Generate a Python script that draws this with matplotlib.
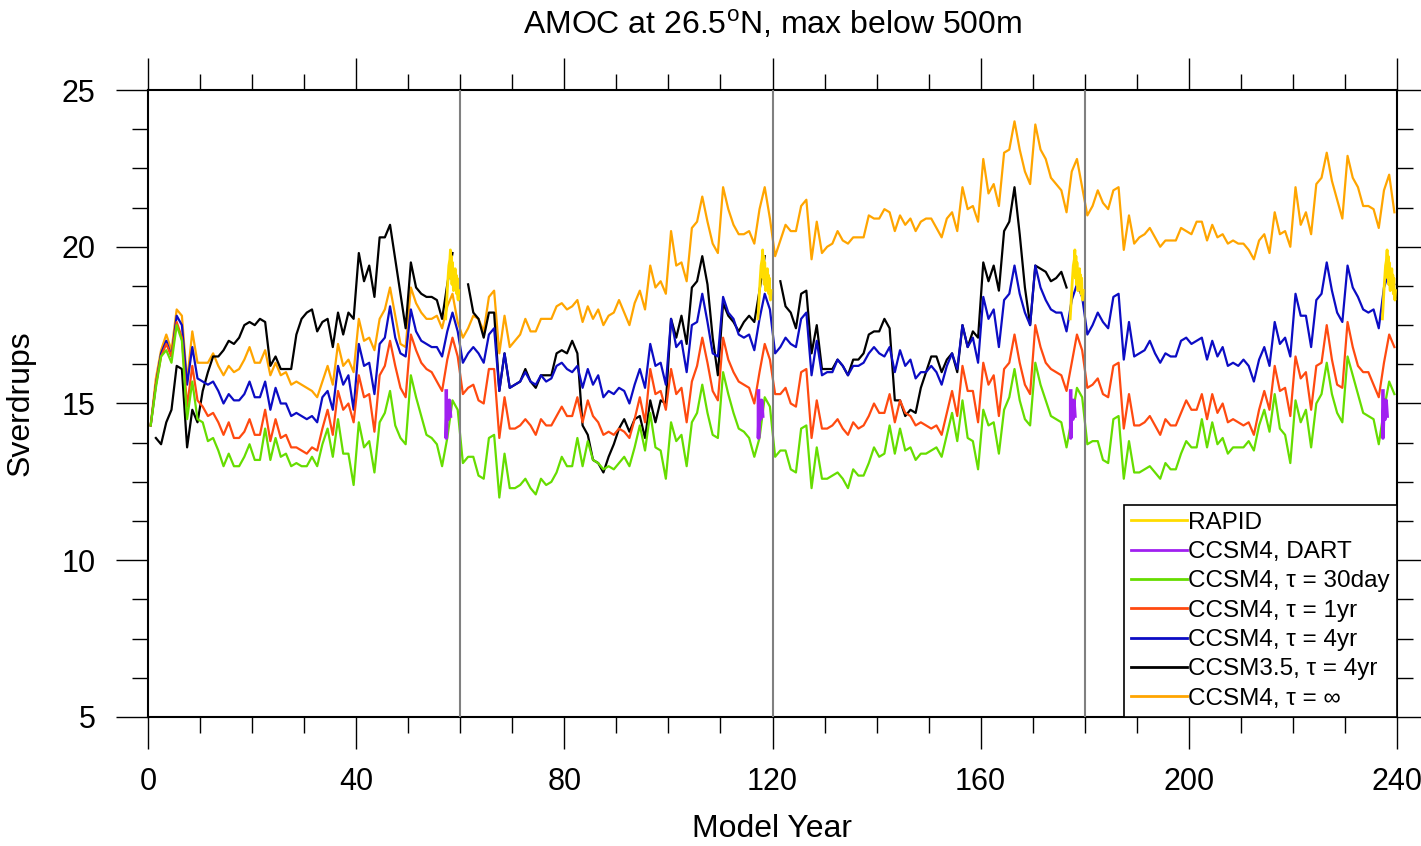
import numpy as np
import matplotlib
matplotlib.use('Agg')
import matplotlib.pyplot as plt
from matplotlib.ticker import MultipleLocator

plt.rcParams['font.family'] = ['Liberation Sans', 'DejaVu Sans']
plt.rcParams['mathtext.fontset'] = 'custom'
plt.rcParams['mathtext.rm'] = 'Liberation Sans'

nan = np.nan

# one value per model year
ccsm4_inf = [
    14.3, 15.8, 16.7, 17.2, 16.7, 18.0, 17.8, 15.7, 17.3, 16.3,
    16.3, 16.3, 16.6, 16.2, 15.9, 16.2, 16.0, 16.1, 16.4, 16.8,
    16.3, 16.3, 16.7, 15.9, 16.3, 15.9, 16.0, 15.6, 15.7, 15.6,
    15.5, 15.4, 15.2, 15.7, 16.2, 15.6, 16.9, 16.2, 16.4, 16.0,
    17.7, 17.0, 17.1, 16.7, 17.7, 18.0, 18.7, 17.8, 16.9, 16.8,
    18.7, 18.2, 17.9, 17.7, 17.7, 17.8, 17.4, 18.1, 18.5, 17.6,
    17.1, 17.4, 17.8, 17.7, 17.3, 18.4, 18.6, 16.6, 17.8, 16.8,
    17.0, 17.2, 17.7, 17.3, 17.3, 17.7, 17.7, 17.7, 18.1, 18.2,
    18.0, 18.1, 18.3, 17.6, 18.1, 17.7, 18.0, 17.5, 17.8, 17.9,
    18.3, 17.9, 17.5, 18.2, 18.6, 18.0, 19.4, 18.7, 18.9, 18.5,
    20.5, 19.4, 19.5, 18.9, 20.6, 20.8, 21.6, 20.8, 20.1, 19.8,
    21.9, 21.2, 20.7, 20.4, 20.4, 20.5, 20.1, 21.2, 21.9, 20.9,
    19.7, 20.2, 20.7, 20.5, 20.5, 21.3, 21.5, 19.6, 20.8, 19.8,
    20.0, 20.1, 20.5, 20.2, 20.1, 20.3, 20.3, 20.3, 21.0, 20.9,
    20.9, 21.2, 21.1, 20.5, 21.0, 20.7, 20.9, 20.5, 20.8, 20.9,
    20.9, 20.6, 20.3, 20.9, 21.1, 20.5, 21.9, 21.2, 21.3, 20.8,
    22.8, 21.7, 22.0, 21.3, 23.0, 23.1, 24.0, 23.1, 22.4, 22.0,
    23.9, 23.1, 22.8, 22.2, 22.0, 21.8, 21.1, 22.4, 22.8, 21.9,
    21.0, 21.3, 21.8, 21.4, 21.2, 21.8, 21.9, 19.9, 21.0, 20.1,
    20.3, 20.4, 20.6, 20.3, 20.0, 20.2, 20.2, 20.2, 20.6, 20.5,
    20.4, 20.8, 20.8, 20.2, 20.7, 20.3, 20.4, 20.1, 20.2, 20.1,
    20.1, 19.9, 19.6, 20.2, 20.4, 19.8, 21.1, 20.4, 20.5, 20.0,
    21.9, 20.7, 21.1, 20.4, 22.0, 22.2, 23.0, 22.1, 21.5, 20.9,
    22.9, 22.2, 21.9, 21.3, 21.3, 21.2, 20.6, 21.8, 22.3, 21.1,
]

ccsm4_4yr = [
    14.3, 15.6, 16.6, 17.0, 16.5, 17.8, 17.5, 15.6, 16.8, 15.8,
    15.7, 15.6, 15.7, 15.4, 15.0, 15.3, 15.1, 15.1, 15.3, 15.7,
    15.2, 15.2, 15.7, 14.8, 15.5, 15.0, 15.0, 14.6, 14.7, 14.6,
    14.5, 14.6, 14.4, 15.2, 15.4, 14.8, 16.2, 15.6, 15.9, 14.8,
    16.9, 16.2, 16.3, 15.3, 16.9, 17.1, 18.1, 17.1, 16.6, 16.5,
    18.0, 17.3, 17.0, 16.9, 16.8, 16.8, 16.5, 17.3, 17.9, 17.3,
    16.3, 16.6, 16.8, 16.6, 16.3, 17.2, 17.4, 15.4, 16.6, 15.5,
    15.6, 15.7, 16.0, 15.7, 15.6, 15.9, 15.7, 15.8, 16.2, 16.3,
    16.1, 16.0, 16.2, 15.5, 16.1, 15.6, 15.9, 15.2, 15.4, 15.3,
    15.5, 15.4, 15.0, 15.6, 16.1, 15.5, 16.9, 16.2, 16.3, 15.6,
    17.7, 16.8, 17.0, 16.0, 17.5, 17.6, 18.5, 17.6, 16.6, 16.5,
    18.4, 17.9, 17.7, 17.2, 17.1, 17.2, 16.7, 17.7, 18.5, 18.0,
    16.6, 16.8, 17.1, 16.9, 16.8, 17.7, 17.9, 15.9, 17.0, 15.9,
    16.0, 16.0, 16.4, 16.2, 15.9, 16.2, 16.2, 16.3, 16.6, 16.8,
    16.6, 16.5, 16.8, 16.0, 16.7, 16.2, 16.4, 15.8, 16.0, 16.0,
    16.2, 16.0, 15.6, 16.2, 16.6, 16.1, 17.5, 16.8, 17.1, 16.3,
    18.4, 17.7, 18.0, 16.8, 18.3, 18.5, 19.4, 18.5, 17.9, 17.5,
    19.4, 18.7, 18.3, 18.0, 17.9, 17.9, 17.3, 18.3, 18.8, 18.4,
    17.2, 17.5, 17.9, 17.6, 17.4, 18.4, 18.5, 16.4, 17.6, 16.5,
    16.6, 16.7, 17.0, 16.6, 16.3, 16.6, 16.5, 16.5, 17.0, 17.1,
    16.9, 17.0, 17.1, 16.4, 17.0, 16.5, 16.8, 16.2, 16.3, 16.2,
    16.4, 16.2, 15.7, 16.4, 16.8, 16.2, 17.6, 16.9, 17.1, 16.5,
    18.5, 17.8, 17.8, 16.8, 18.3, 18.5, 19.5, 18.6, 17.9, 17.6,
    19.4, 18.7, 18.4, 18.0, 17.9, 18.0, 17.4, 18.7, 19.2, 18.8,
]

ccsm4_1yr = [
    14.3, 15.6, 16.5, 16.9, 16.5, 17.6, 17.1, 14.9, 16.2, 15.1,
    14.9, 14.6, 14.7, 14.4, 14.0, 14.4, 13.9, 13.9, 14.1, 14.5,
    14.0, 14.0, 14.8, 13.8, 14.5, 13.9, 14.0, 13.6, 13.6, 13.5,
    13.4, 13.6, 13.5, 14.2, 14.8, 14.0, 15.4, 14.8, 15.0, 14.4,
    15.9, 15.2, 15.3, 14.1, 15.9, 16.2, 17.0, 16.2, 15.5, 15.2,
    17.2, 16.7, 16.3, 16.1, 16.0, 15.7, 15.4, 16.4, 17.1, 16.5,
    15.3, 15.5, 15.6, 15.1, 15.0, 16.1, 16.1, 13.9, 15.2, 14.2,
    14.2, 14.3, 14.5, 14.3, 14.0, 14.5, 14.3, 14.3, 14.6, 14.9,
    14.6, 14.6, 15.2, 14.4, 15.1, 14.6, 14.4, 14.0, 14.1, 14.0,
    14.2, 14.1, 13.9, 14.5, 15.2, 14.4, 16.1, 15.3, 15.4, 14.8,
    16.1, 15.3, 15.5, 14.4, 15.7, 16.2, 17.1, 16.3, 15.4, 15.1,
    17.1, 16.4, 16.0, 15.7, 15.6, 15.5, 15.0, 16.0, 16.9, 16.4,
    15.3, 15.3, 15.5, 15.0, 14.9, 16.0, 16.1, 13.9, 15.1, 14.2,
    14.2, 14.3, 14.5, 14.2, 14.0, 14.4, 14.2, 14.3, 14.6, 15.0,
    14.7, 14.7, 15.3, 14.4, 15.1, 14.7, 14.6, 14.3, 14.4, 14.3,
    14.2, 14.3, 14.0, 14.7, 15.4, 14.6, 16.2, 15.4, 15.4, 14.4,
    16.3, 15.6, 15.9, 14.6, 16.1, 16.3, 17.2, 16.3, 15.6, 15.3,
    17.5, 16.8, 16.3, 16.1, 16.0, 15.9, 15.4, 16.3, 17.2, 16.7,
    15.5, 15.6, 15.8, 15.3, 15.2, 16.2, 16.3, 14.2, 15.3, 14.3,
    14.3, 14.4, 14.6, 14.3, 14.0, 14.5, 14.3, 14.3, 14.7, 15.1,
    14.8, 14.8, 15.3, 14.5, 15.3, 14.7, 15.0, 14.4, 14.5, 14.4,
    14.3, 14.4, 14.0, 14.8, 15.4, 14.8, 16.2, 15.4, 15.5, 14.6,
    16.5, 15.8, 16.0, 14.8, 16.2, 16.3, 17.5, 16.4, 15.6, 15.5,
    17.6, 16.8, 16.2, 16.0, 16.0, 15.6, 15.2, 16.3, 17.2, 16.8,
]

ccsm4_30day = [
    14.3, 15.5, 16.5, 16.7, 16.3, 17.5, 17.0, 14.5, 15.7, 14.5,
    14.4, 13.8, 13.9, 13.5, 13.0, 13.4, 13.0, 13.0, 13.3, 13.7,
    13.2, 13.2, 14.2, 13.2, 13.9, 13.3, 13.4, 13.0, 13.1, 13.0,
    13.0, 13.3, 13.0, 13.7, 14.2, 13.3, 14.5, 13.4, 13.4, 12.4,
    14.4, 13.6, 13.8, 12.8, 14.4, 14.7, 15.4, 14.3, 13.9, 13.7,
    15.9, 15.2, 14.6, 14.0, 13.9, 13.7, 13.0, 13.9, 15.1, 14.8,
    13.1, 13.3, 13.3, 12.7, 12.6, 13.9, 14.0, 12.0, 13.4, 12.3,
    12.3, 12.4, 12.6, 12.3, 12.1, 12.6, 12.4, 12.5, 12.8, 13.3,
    13.0, 13.0, 13.9, 13.0, 13.8, 13.2, 13.1, 12.9, 13.0, 12.9,
    13.1, 13.3, 13.0, 13.6, 14.3, 13.5, 14.7, 13.6, 13.5, 12.6,
    14.4, 13.8, 14.0, 13.0, 14.4, 14.7, 15.6, 14.7, 14.0, 13.9,
    16.0, 15.3, 14.7, 14.2, 14.1, 13.9, 13.3, 13.9, 15.2, 14.9,
    13.3, 13.5, 13.5, 12.9, 12.8, 14.2, 14.3, 12.3, 13.6, 12.6,
    12.6, 12.7, 12.8, 12.6, 12.3, 12.9, 12.7, 12.7, 13.1, 13.6,
    13.3, 13.4, 14.3, 13.4, 14.2, 13.5, 13.6, 13.2, 13.4, 13.4,
    13.5, 13.6, 13.3, 14.0, 14.7, 13.8, 15.1, 13.9, 13.8, 12.9,
    14.8, 14.3, 14.4, 13.4, 14.8, 15.2, 16.1, 15.1, 14.5, 14.3,
    16.3, 15.6, 15.1, 14.6, 14.5, 14.4, 13.6, 14.5, 15.5, 15.2,
    13.7, 13.8, 13.8, 13.2, 13.1, 14.5, 14.6, 12.6, 13.8, 12.8,
    12.8, 12.9, 13.0, 12.8, 12.6, 13.1, 12.9, 12.9, 13.4, 13.8,
    13.6, 13.6, 14.5, 13.6, 14.4, 13.7, 13.9, 13.4, 13.6, 13.6,
    13.6, 13.8, 13.5, 14.3, 14.8, 14.1, 15.3, 14.2, 14.0, 13.1,
    15.1, 14.4, 14.8, 13.6, 15.0, 15.3, 16.3, 15.3, 14.7, 14.4,
    16.5, 15.9, 15.3, 14.7, 14.6, 14.5, 13.7, 14.8, 15.7, 15.3,
]

# CCSM3.5 has gaps between runs and stops before year 180
ccsm35_4yr = [
    nan, 13.9, 13.7, 14.4, 14.8, 16.2, 16.1, 13.6, 14.8, 14.4,
    15.4, 16.0, 16.5, 16.5, 16.7, 17.0, 16.9, 17.1, 17.5, 17.6,
    17.5, 17.7, 17.6, 16.2, 16.5, 16.1, 16.1, 16.1, 17.2, 17.7,
    17.9, 18.0, 17.3, 17.6, 17.7, 16.8, 17.9, 17.2, 17.9, 17.7,
    19.8, 18.9, 19.4, 18.4, 20.3, 20.3, 20.7, 19.6, 18.5, 17.4,
    19.5, 18.7, 18.5, 18.4, 18.4, 18.3, 17.7, 18.8, 19.8, nan,
    nan, 18.8, 17.9, 17.7, 17.1, 17.9, 17.9, 15.4, 16.6, 15.5,
    15.6, 15.7, 16.1, 15.7, 15.5, 15.9, 15.9, 15.9, 16.6, 16.7,
    16.6, 17.0, 16.6, 14.3, 14.0, 13.2, 13.1, 12.8, 13.3, 13.7,
    14.2, 14.5, 14.1, 14.5, 14.6, 13.9, 15.1, 14.4, 15.1, 15.0,
    17.7, 17.1, 17.8, 16.9, 18.7, 18.9, 19.7, 18.8, 17.1, 15.9,
    18.2, 17.8, 17.6, 17.3, 17.6, 17.8, 17.6, 18.6, 19.7, nan,
    nan, 18.9, 18.1, 17.9, 17.4, 18.5, 18.6, 16.6, 17.5, 16.1,
    16.1, 16.1, 16.4, 16.2, 15.9, 16.4, 16.4, 16.6, 17.2, 17.3,
    17.3, 17.7, 17.4, 15.1, 15.1, 14.6, 14.8, 14.7, 15.5, 16.0,
    16.5, 16.5, 16.0, 16.4, 16.6, 16.0, 17.5, 16.8, 17.3, 17.1,
    19.5, 18.9, 19.4, 18.6, 20.5, 20.8, 21.9, 20.4, 18.7, 17.5,
    19.4, 19.3, 19.2, 18.9, 19.0, 19.2, 18.7,
] + [nan] * 63

# RAPID and DART segments (years within each 60-year cycle), repeated every cycle
rapid_t = [57.2, 57.4, 57.6, 57.8, 58.0, 58.1, 58.2, 58.3, 58.4, 58.5, 58.6,
           58.7, 58.8, 58.9, 59.0, 59.1, 59.2, 59.3, 59.4, 59.5, 59.6, 59.7]
rapid_v = [17.7, 18.3, 18.9, 19.4, 19.6, 19.9, 19.0, 19.7, 18.8, 19.5, 18.9,
           18.6, 19.2, 18.7, 19.3, 18.8, 19.1, 18.5, 19.0, 18.4, 18.3, 18.6]
dart_t = [57.3, 57.3, 57.5, 57.7, 57.9, 58.1]
dart_v = [15.4, 13.9, 15.1, 14.5, 15.1, 14.6]
cycle_starts = [0, 60, 120, 180]

years = np.arange(len(ccsm4_inf)) + 0.5

fig = plt.figure(figsize=(14.21, 8.46), dpi=100)
ax = fig.add_axes([0.1042, 0.1525, 0.8789, 0.7411])

lw = 1.6
l_inf, = ax.plot(years, ccsm4_inf, color='#ffa500', lw=lw)
l_35, = ax.plot(years, ccsm35_4yr, color='black', lw=lw)
l_4yr, = ax.plot(years, ccsm4_4yr, color='#0c0cc4', lw=lw)
l_1yr, = ax.plot(years, ccsm4_1yr, color='#ff4a10', lw=lw)
l_30d, = ax.plot(years, ccsm4_30day, color='#66dd00', lw=lw)

for c in [60, 120, 180]:
    ax.axvline(c, color='#808080', lw=1.5, zorder=3)

for c in cycle_starts:
    l_dart, = ax.plot(np.array(dart_t) + c, dart_v, color='#a020f0', lw=2.6, zorder=4)
    l_rapid, = ax.plot(np.array(rapid_t) + c, rapid_v, color='#ffdc00', lw=2.0, zorder=5)

ax.set_xlim(0, 240)
ax.set_ylim(5, 25)
ax.set_xticks(range(0, 241, 40))
ax.set_yticks(range(5, 26, 5))
ax.xaxis.set_minor_locator(MultipleLocator(10))
ax.yaxis.set_minor_locator(MultipleLocator(1.25))
ax.tick_params(which='both', direction='out', top=True, right=True,
               labeltop=False, labelright=False, width=1.0, color='black')
ax.tick_params(which='major', length=23, labelsize=22)
ax.tick_params(which='minor', length=11.5)
ax.tick_params(axis='x', which='major', pad=13)
ax.tick_params(axis='y', which='major', pad=15)
for s in ax.spines.values():
    s.set_linewidth(1.5)

fig.text(0.5436, 1 - 25 / 846, r'AMOC at 26.5$^\mathrm{o}$N, max below 500m',
         ha='center', va='center', fontsize=23)
fig.text(0.5436, 1 - 829 / 846, 'Model Year', ha='center', va='center', fontsize=23)
fig.text(21 / 1421, 1 - 403 / 846, 'Sverdrups', ha='center', va='center',
         rotation=90, fontsize=23)

handles = [l_rapid, l_dart, l_30d, l_1yr, l_4yr, l_35, l_inf]
labels = ['RAPID', 'CCSM4, DART', 'CCSM4, τ = 30day', 'CCSM4, τ = 1yr',
          'CCSM4, τ = 4yr', 'CCSM3.5, τ = 4yr', 'CCSM4, τ = ∞']
leg = ax.legend(handles, labels, loc='lower right', bbox_to_anchor=(1, 0),
                borderaxespad=0, fontsize=17.5, handlelength=2.3, handletextpad=0.05,
                labelspacing=0.3, borderpad=0.3, fancybox=False, framealpha=1,
                edgecolor='black')
leg.get_frame().set_linewidth(1.2)
for h in leg.get_lines():
    h.set_linewidth(2.0)

fig.savefig('out.png', dpi=100)
